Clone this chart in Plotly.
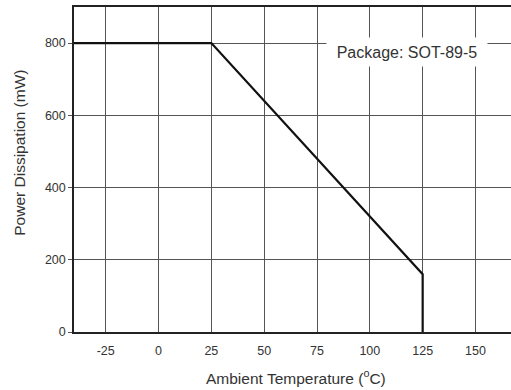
import plotly.graph_objects as go

temp_c = [-40, 25, 125, 125]
power_mw = [800, 800, 160, 0]
x_ticks = [-25, 0, 25, 50, 75, 100, 125, 150]
x_tick_text = ["-25", "0", "25", "50", "75", "100", "125", "150"]
y_ticks = [0, 200, 400, 600, 800]
note = "Package: SOT-89-5"
x_title = "Ambient Temperature (<sup>o</sup>C)"
y_title = "Power Dissipation (mW)"

fig = go.Figure()
fig.add_trace(go.Scatter(x=temp_c, y=power_mw, mode="lines",
                         line=dict(color="#111111", width=2.2), showlegend=False))

font_family = "Liberation Sans, Arial, sans-serif"
txt = "#333333"
fig.update_layout(
    width=511, height=390,
    margin=dict(l=74, r=0, t=7, b=58),
    paper_bgcolor="white", plot_bgcolor="white",
    font=dict(family=font_family, size=12, color=txt),
    xaxis=dict(range=[-40, 166.8], tickvals=x_ticks, ticktext=x_tick_text, showgrid=True,
               gridcolor="#555555", gridwidth=1, zeroline=False,
               showline=True, mirror=True, linecolor="#222222", linewidth=1.5,
               ticks="", ticklabelstandoff=6, tickfont=dict(size=12.5, color=txt)),
    yaxis=dict(range=[0, 900], tickvals=y_ticks, showgrid=True,
               gridcolor="#555555", gridwidth=1, zeroline=False,
               showline=True, linecolor="#222222", linewidth=1.5,
               ticks="outside", ticklen=4, tickcolor="#555555",
               tickfont=dict(size=12.5, color=txt)),
)
fig.add_annotation(x=117.4, y=775, xref="x", yref="y", text=note, showarrow=False,
                   font=dict(size=16, color=txt), bgcolor="white",
                   width=156, height=24, borderpad=2)
fig.add_annotation(x=0.507, y=-0.138, xref="paper", yref="paper", text=x_title,
                   showarrow=False, font=dict(size=15.5, color=txt),
                   xanchor="center", yanchor="middle")
fig.add_annotation(x=-0.124, y=0.551, xref="paper", yref="paper", text=y_title,
                   showarrow=False, font=dict(size=15.5, color=txt), textangle=-90,
                   xanchor="center", yanchor="middle")

fig.write_html("out.html")
